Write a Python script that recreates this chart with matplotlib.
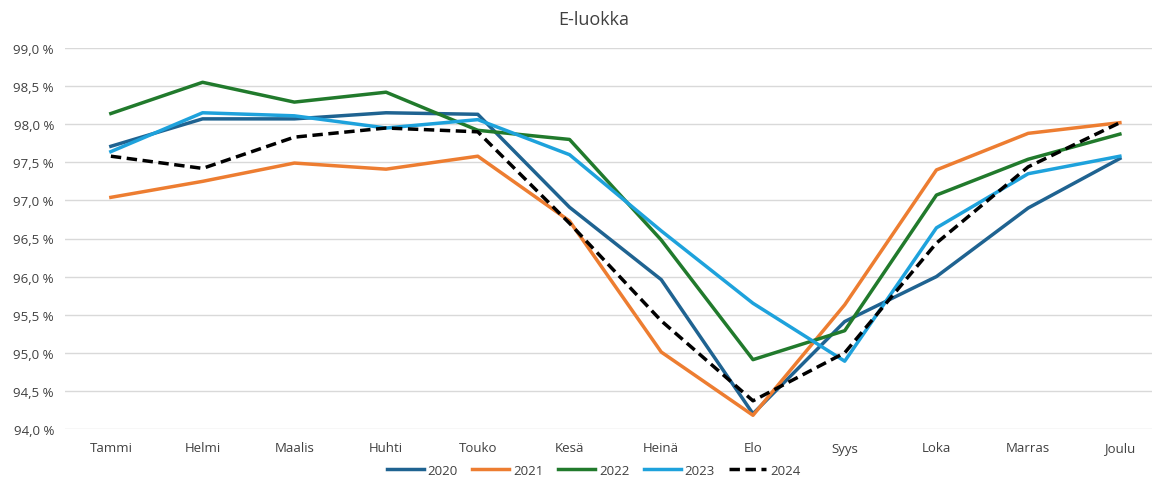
import matplotlib
matplotlib.use("Agg")
import matplotlib.pyplot as plt
import matplotlib.ticker as ticker

plt.rcParams['font.family'] = ['Open Sans', 'DejaVu Sans']

# monthly values (%)
months = ['Tammi', 'Helmi', 'Maalis', 'Huhti', 'Touko', 'Kesä',
          'Heinä', 'Elo', 'Syys', 'Loka', 'Marras', 'Joulu']
v2020 = [97.71, 98.07, 98.07, 98.15, 98.13, 96.91, 95.96, 94.20, 95.41, 96.00, 96.90, 97.55]
v2021 = [97.04, 97.25, 97.49, 97.41, 97.58, 96.73, 95.01, 94.18, 95.63, 97.40, 97.88, 98.02]
v2022 = [98.14, 98.55, 98.29, 98.42, 97.92, 97.80, 96.48, 94.91, 95.29, 97.07, 97.54, 97.87]
v2023 = [97.64, 98.15, 98.11, 97.95, 98.06, 97.60, 96.60, 95.65, 94.89, 96.64, 97.35, 97.58]
v2024 = [97.58, 97.42, 97.83, 97.95, 97.90, 96.70, 95.42, 94.37, 95.00, 96.44, 97.44, 98.02]

series = [('2020', v2020, '#1f6391', '-'),
          ('2021', v2021, '#ed7d31', '-'),
          ('2022', v2022, '#217a2c', '-'),
          ('2023', v2023, '#1ea2dc', '-'),
          ('2024', v2024, 'black', '--')]

fig = plt.figure(figsize=(11.55, 4.81), dpi=100)
ax = fig.add_axes([65 / 1155, 1 - 430 / 481, (1152 - 65) / 1155, (430 - 49) / 481])

x = list(range(len(months)))
for name, vals, col, ls in series:
    ax.plot(x, vals, color=col, linestyle=ls, linewidth=2.5, label=name,
            dashes=(3, 1.6) if ls == '--' else (None, None))

ax.set_ylim(94.0, 99.0)
ax.set_xlim(-0.5, 11.35)
ax.yaxis.set_major_locator(ticker.MultipleLocator(0.5))
ax.yaxis.set_major_formatter(ticker.FuncFormatter(lambda v, p: f'{v:.1f}'.replace('.', ',') + ' %'))
ax.set_xticks(x)
ax.set_xticklabels(months)
ax.grid(axis='y', color='#d9d9d9', linewidth=1)
ax.set_axisbelow(True)
for s in ax.spines.values():
    s.set_visible(False)
ax.tick_params(axis='both', length=0, labelsize=9.5, colors='#404040')
ax.tick_params(axis='x', pad=9)
ax.tick_params(axis='y', pad=8)

fig.suptitle('E-luokka', x=0.514, y=0.978, fontsize=13, color='#404040')
fig.legend(loc='lower center', bbox_to_anchor=(0.514, -0.012), ncol=5, frameon=False,
           fontsize=9.5, handlelength=2.8, handletextpad=0.3, columnspacing=1.1,
           borderpad=0.2, labelcolor='#404040')

fig.savefig('out.png', dpi=100)
